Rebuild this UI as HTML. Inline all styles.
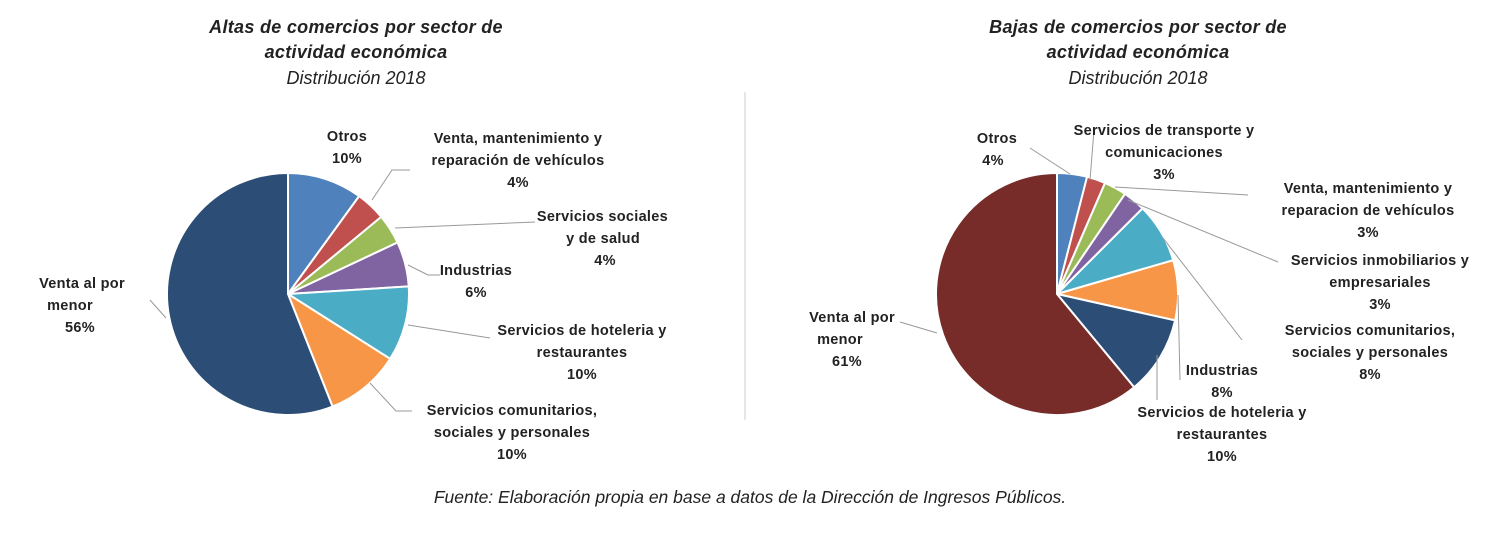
<!DOCTYPE html>
<html><head><meta charset="utf-8"><style>
html,body{margin:0;padding:0;background:#fff;}
svg{display:block}
text{font-family:"Liberation Sans",sans-serif;fill:#222;}
.l{font-size:14.5px;font-weight:bold;text-anchor:middle;letter-spacing:0.3px}
.t{font-size:18px;font-weight:bold;font-style:italic;text-anchor:middle;letter-spacing:0.3px}
.s{font-size:18px;font-style:italic;text-anchor:middle}
.ld{stroke:#999;stroke-width:1;fill:none}
</style></head><body>
<svg id="s" width="1500" height="557" viewBox="0 0 1500 557">
<text class="t" x="356" y="33">Altas de comercios por sector de</text>
<text class="t" x="356" y="58">actividad económica</text>
<text class="s" x="356" y="84">Distribución 2018</text>
<text class="t" x="1138" y="33">Bajas de comercios por sector de</text>
<text class="t" x="1138" y="58">actividad económica</text>
<text class="s" x="1138" y="84">Distribución 2018</text>
<line x1="745" y1="92" x2="745" y2="420" stroke="#ccc"/>
<text class="s" x="750" y="503" style="font-size:17.5px">Fuente: Elaboración propia en base a datos de la Dirección de Ingresos Públicos.</text>
<g id="p1"></g><g id="p2"></g>
<polyline class="ld" points="372,200 392,170 410,170"/>
<polyline class="ld" points="395,228 535,222"/>
<polyline class="ld" points="408,265 428,275 440,275"/>
<polyline class="ld" points="408,325 490,338"/>
<polyline class="ld" points="370,383 396,411 412,411"/>
<polyline class="ld" points="150,300 166,318"/>
<text class="l" x="347" y="141">Otros</text><text class="l" x="347" y="163">10%</text>
<text class="l" x="518" y="143">Venta, mantenimiento y</text><text class="l" x="518" y="165">reparación de vehículos</text><text class="l" x="518" y="187">4%</text>
<text class="l" x="668" y="221" style="text-anchor:end">Servicios sociales</text><text class="l" x="640" y="243" style="text-anchor:end">y de salud</text><text class="l" x="605" y="265">4%</text>
<text class="l" x="476" y="275">Industrias</text><text class="l" x="476" y="297">6%</text>
<text class="l" x="582" y="335">Servicios de hoteleria y</text><text class="l" x="582" y="357">restaurantes</text><text class="l" x="582" y="379">10%</text>
<text class="l" x="512" y="415">Servicios comunitarios,</text><text class="l" x="512" y="437">sociales y personales</text><text class="l" x="512" y="459">10%</text>
<text class="l" x="82" y="288">Venta al por</text><text class="l" x="70" y="310">menor</text><text class="l" x="80" y="332">56%</text>
<polyline class="ld" points="1030,148 1070,174"/>
<polyline class="ld" points="1094,130 1090,180"/>
<polyline class="ld" points="1115,187 1248,195"/>
<polyline class="ld" points="1128,200 1278,262"/>
<polyline class="ld" points="1163,238 1242,340"/>
<polyline class="ld" points="1178,295 1180,380"/>
<polyline class="ld" points="1157,355 1157,400"/>
<polyline class="ld" points="900,322 937,333"/>
<text class="l" x="997" y="143">Otros</text><text class="l" x="993" y="165">4%</text>
<text class="l" x="1164" y="135">Servicios de transporte y</text><text class="l" x="1164" y="157">comunicaciones</text><text class="l" x="1164" y="179">3%</text>
<text class="l" x="1368" y="193">Venta, mantenimiento y</text><text class="l" x="1368" y="215">reparacion de vehículos</text><text class="l" x="1368" y="237">3%</text>
<text class="l" x="1380" y="265">Servicios inmobiliarios y</text><text class="l" x="1380" y="287">empresariales</text><text class="l" x="1380" y="309">3%</text>
<text class="l" x="1370" y="335">Servicios comunitarios,</text><text class="l" x="1370" y="357">sociales y personales</text><text class="l" x="1370" y="379">8%</text>
<text class="l" x="1222" y="375">Industrias</text><text class="l" x="1222" y="397">8%</text>
<text class="l" x="1222" y="417">Servicios de hoteleria y</text><text class="l" x="1222" y="439">restaurantes</text><text class="l" x="1222" y="461">10%</text>
<text class="l" x="852" y="322">Venta al por</text><text class="l" x="840" y="344">menor</text><text class="l" x="847" y="366">61%</text>
</svg>
<script>
function pie(id,cx,cy,r,vals,cols){
 var g=document.getElementById(id),a=0,h='';
 for(var i=0;i<vals.length;i++){
  var a0=a/100*2*Math.PI,a1=(a+vals[i])/100*2*Math.PI;a+=vals[i];
  var x0=cx+r*Math.sin(a0),y0=cy-r*Math.cos(a0),x1=cx+r*Math.sin(a1),y1=cy-r*Math.cos(a1);
  var lg=vals[i]>50?1:0;
  h+='<path d="M'+cx+','+cy+' L'+x0.toFixed(2)+','+y0.toFixed(2)+' A'+r+','+r+' 0 '+lg+' 1 '+x1.toFixed(2)+','+y1.toFixed(2)+' Z" fill="'+cols[i]+'" stroke="#fff" stroke-width="2"/>';
 }
 g.innerHTML=h;
}
pie('p1',288,294,121,[10,4,4,6,10,10,56],['#4f81bd','#c0504d','#9bbb59','#8064a2','#4bacc6','#f79646','#2c4d75']);
pie('p2',1057,294,121,[4,2.5,3,3,8,8,10.5,61],['#4f81bd','#c0504d','#9bbb59','#8064a2','#4bacc6','#f79646','#2c4d75','#772c2a']);
</script>
</body></html>
